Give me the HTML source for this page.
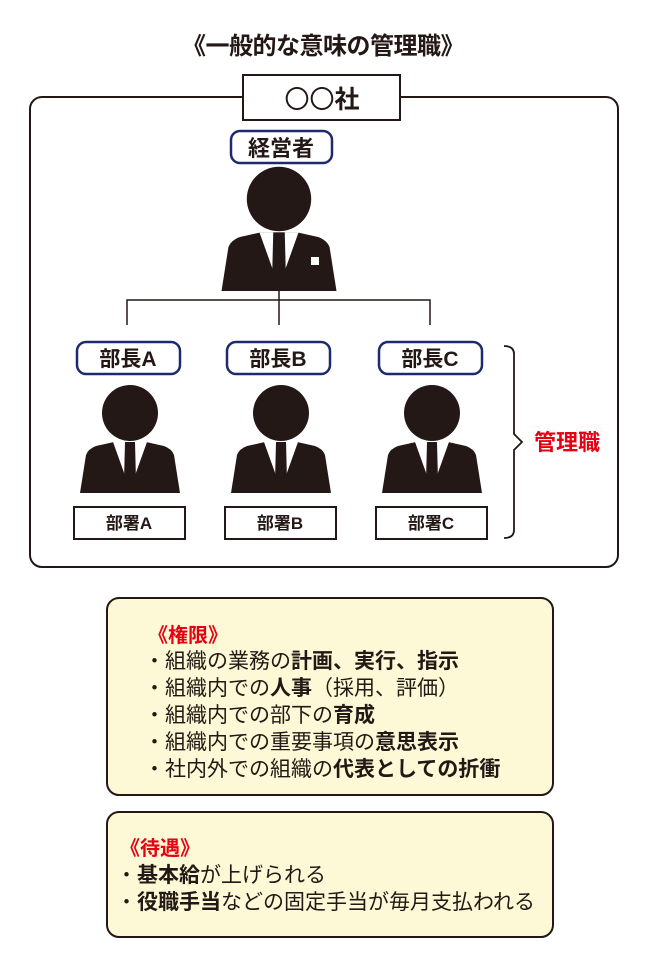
<!DOCTYPE html>
<html><head><meta charset="utf-8"><style>
html,body{margin:0;padding:0;background:#fff;}
svg{display:block;}
text{font-family:"Liberation Sans","Noto Sans CJK JP",sans-serif;}
</style></head><body>
<svg width="650" height="974" viewBox="0 0 650 974" xmlns="http://www.w3.org/2000/svg">
<defs>
<g id="p">
<circle cx="0" cy="0" r="28" fill="#231815"/>
<path d="M-50,80 L-44,42 Q-42,36 -34,33 L-16,29 L16,29 L34,33 Q42,36 44,42 L50,80 Z" fill="#231815"/>
<path d="M-17,29 L17,29 L3,68 L-3,68 Z" fill="#fff"/>
<path d="M-5,29 L5,29 L6,68 L0,80 L-6,68 Z" fill="#231815"/>
</g>
</defs>
<text x="323" y="54" text-anchor="middle" font-size="24" font-weight="bold" fill="#231815" letter-spacing="-0.5">《一般的な意味の管理職》</text>
<rect x="30" y="97" width="588" height="470" rx="12" fill="none" stroke="#231815" stroke-width="2"/>
<rect x="243" y="75" width="157" height="45" fill="#fff" stroke="#231815" stroke-width="2"/>
<text x="322" y="108" text-anchor="middle" font-size="25" fill="#231815">〇〇<tspan font-weight="bold">社</tspan></text>
<rect x="231" y="131" width="101" height="32" rx="9" fill="#fff" stroke="#1d2a6b" stroke-width="2.5"/>
<text x="281" y="156" text-anchor="middle" font-size="22" font-weight="bold" fill="#231815">経営者</text>
<g transform="translate(279,199) scale(1.15)"><use href="#p"/></g>
<rect x="311" y="257" width="8" height="8" fill="#fff"/>
<path d="M279,291 V300 M127,325 V300 H430 V325 M279,300 V325" fill="none" stroke="#231815" stroke-width="1.5"/>
<g font-size="21" font-weight="bold" fill="#231815" text-anchor="middle">
<rect x="77" y="342" width="103" height="32" rx="9" fill="#fff" stroke="#1d2a6b" stroke-width="2.5"/>
<text x="128" y="366">部長A</text>
<rect x="227" y="342" width="103" height="32" rx="9" fill="#fff" stroke="#1d2a6b" stroke-width="2.5"/>
<text x="278" y="366">部長B</text>
<rect x="379" y="342" width="103" height="32" rx="9" fill="#fff" stroke="#1d2a6b" stroke-width="2.5"/>
<text x="430" y="366">部長C</text>
</g>
<g transform="translate(130,413)"><use href="#p"/></g>
<g transform="translate(281,413)"><use href="#p"/></g>
<g transform="translate(432,413)"><use href="#p"/></g>
<g font-size="17" font-weight="bold" fill="#231815" text-anchor="middle">
<rect x="74" y="507" width="111" height="32" fill="#fff" stroke="#231815" stroke-width="2"/>
<text x="129" y="529">部署A</text>
<rect x="225" y="507" width="111" height="32" fill="#fff" stroke="#231815" stroke-width="2"/>
<text x="280" y="529">部署B</text>
<rect x="376" y="507" width="111" height="32" fill="#fff" stroke="#231815" stroke-width="2"/>
<text x="431" y="529">部署C</text>
</g>
<path d="M504,346 Q514,346 514,354 V434 L522,442 L514,450 V530 Q514,538 504,538" fill="none" stroke="#231815" stroke-width="1.8"/>
<text x="534" y="450" font-size="22" font-weight="bold" fill="#e60012">管理職</text>
<rect x="107" y="598" width="446" height="197" rx="12" fill="#fdf8d5" stroke="#231815" stroke-width="2"/>
<text x="148" y="642" font-size="20" font-weight="bold" fill="#e60012">《権限》</text>
<g font-size="21" fill="#231815">
<text x="144" y="668">・組織の業務の<tspan font-weight="bold">計画、実行、指示</tspan></text>
<text x="144" y="695">・組織内での<tspan font-weight="bold">人事</tspan>（採用、評価）</text>
<text x="144" y="722">・組織内での部下の<tspan font-weight="bold">育成</tspan></text>
<text x="144" y="749">・組織内での重要事項の<tspan font-weight="bold">意思表示</tspan></text>
<text x="144" y="776">・社内外での組織の<tspan font-weight="bold">代表としての折衝</tspan></text>
</g>
<rect x="107" y="812" width="446" height="125" rx="12" fill="#fdf8d5" stroke="#231815" stroke-width="2"/>
<text x="120" y="855" font-size="20" font-weight="bold" fill="#e60012">《待遇》</text>
<g font-size="21" fill="#231815">
<text x="116" y="882">・<tspan font-weight="bold">基本給</tspan>が上げられる</text>
<text x="116" y="909">・<tspan font-weight="bold">役職手当</tspan>などの固定手当が毎月支払われる</text>
</g>
</svg>
</body></html>
